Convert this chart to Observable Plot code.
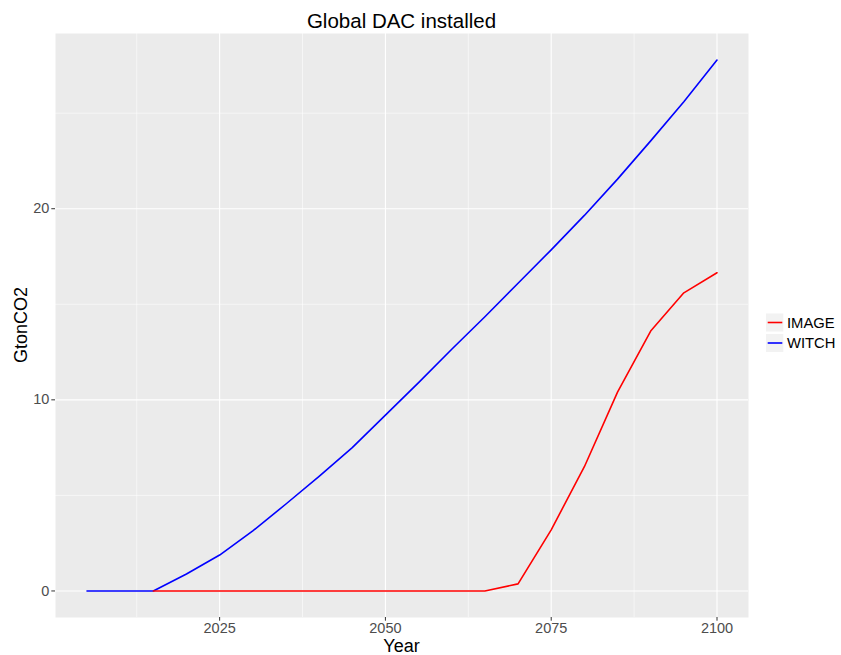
<!DOCTYPE html>
<html><head><meta charset="utf-8">
<script src="https://cdn.jsdelivr.net/npm/d3@7"></script>
<script src="https://cdn.jsdelivr.net/npm/@observablehq/plot@0.6"></script>
<style>body{margin:0;background:#fff;font-family:"Liberation Sans",Arial,sans-serif}</style>
</head><body><div id="chart"></div>
<script>
const years = [2005,2010,2015,2020,2025,2030,2035,2040,2045,2050,2055,2060,2065,2070,2075,2080,2085,2090,2095,2100];
const witch = [0,0,0,0.89,1.88,3.14,4.55,6.0,7.5,9.2,10.9,12.65,14.35,16.1,17.85,19.65,21.55,23.55,25.6,27.78];
const image = [null,null,0,0,0,0,0,0,0,0,0,0,0,0.37,3.2,6.5,10.4,13.6,15.6,16.65];
const models = ["IMAGE","WITCH"];
const colors = ["#ff0000","#0000ff"];
const xMajor = [2025,2050,2075,2100];
const xMinor = [2012.5,2037.5,2062.5,2087.5];
const yMajor = [0,10,20];
const yMinor = [5,15,25];

const data = [];
years.forEach((y,i)=>{
  if (image[i]!==null) data.push({year:y, value:image[i], model:"IMAGE"});
  data.push({year:y, value:witch[i], model:"WITCH"});
});

const W=841,H=655,mt=33,mb=38,ml=55,mr=93;
const plot = Plot.plot({
  width:W, height:H, marginTop:mt, marginBottom:mb, marginLeft:ml, marginRight:mr,
  style:{fontFamily:"Liberation Sans, Arial, sans-serif", background:"#fff", overflow:"visible"},
  x:{domain:[2000.25,2104.75], label:null},
  y:{domain:[-1.389,29.169], label:null},
  color:{domain:models, range:colors},
  marks:[
    Plot.frame({fill:"#ebebeb", stroke:null}),
    Plot.gridX(xMinor,{stroke:"#fff", strokeOpacity:1, strokeWidth:0.55}),
    Plot.gridY(yMinor,{stroke:"#fff", strokeOpacity:1, strokeWidth:0.55}),
    Plot.gridX(xMajor,{stroke:"#fff", strokeOpacity:1, strokeWidth:1.1}),
    Plot.gridY(yMajor,{stroke:"#fff", strokeOpacity:1, strokeWidth:1.1}),
    Plot.axisX(xMajor,{tickSize:3.7, tickPadding:2, stroke:"#333", fill:"#4d4d4d", fontSize:14.5, tickFormat:"d", label:null}),
    Plot.axisY(yMajor,{tickSize:3.7, tickPadding:2.5, stroke:"#333", fill:"#4d4d4d", fontSize:14.5, label:null}),
    Plot.line(data,{x:"year", y:"value", z:"model", stroke:"model", strokeWidth:1.6}),
  ]
});
document.getElementById("chart").appendChild(plot);

const svg = d3.select(plot);
svg.append("text").attr("x", ml+(W-ml-mr)/2).attr("y", 27.5).attr("text-anchor","middle")
  .attr("font-size",20.5).attr("fill","#000").text("Global DAC installed");
svg.append("text").attr("x", ml+(W-ml-mr)/2).attr("y", 652).attr("text-anchor","middle")
  .attr("font-size",18).attr("fill","#000").text("Year");
svg.append("text").attr("transform",`translate(27,${mt+(H-mt-mb)/2}) rotate(-90)`).attr("text-anchor","middle")
  .attr("font-size",18).attr("fill","#000").text("GtonCO2");
const lg = svg.append("g");
models.forEach((m,i)=>{
  const yc = 322.5 + i*20.5;
  lg.append("rect").attr("x",766).attr("y",yc-9).attr("width",17.3).attr("height",18).attr("fill","#f2f2f2");
  lg.append("line").attr("x1",767.7).attr("x2",782.3).attr("y1",yc).attr("y2",yc).attr("stroke",colors[i]).attr("stroke-width",1.6);
  lg.append("text").attr("x",787).attr("y",yc+5.2).attr("text-anchor","start").attr("font-size",14.8).attr("fill","#000").text(m);
});
</script></body></html>
